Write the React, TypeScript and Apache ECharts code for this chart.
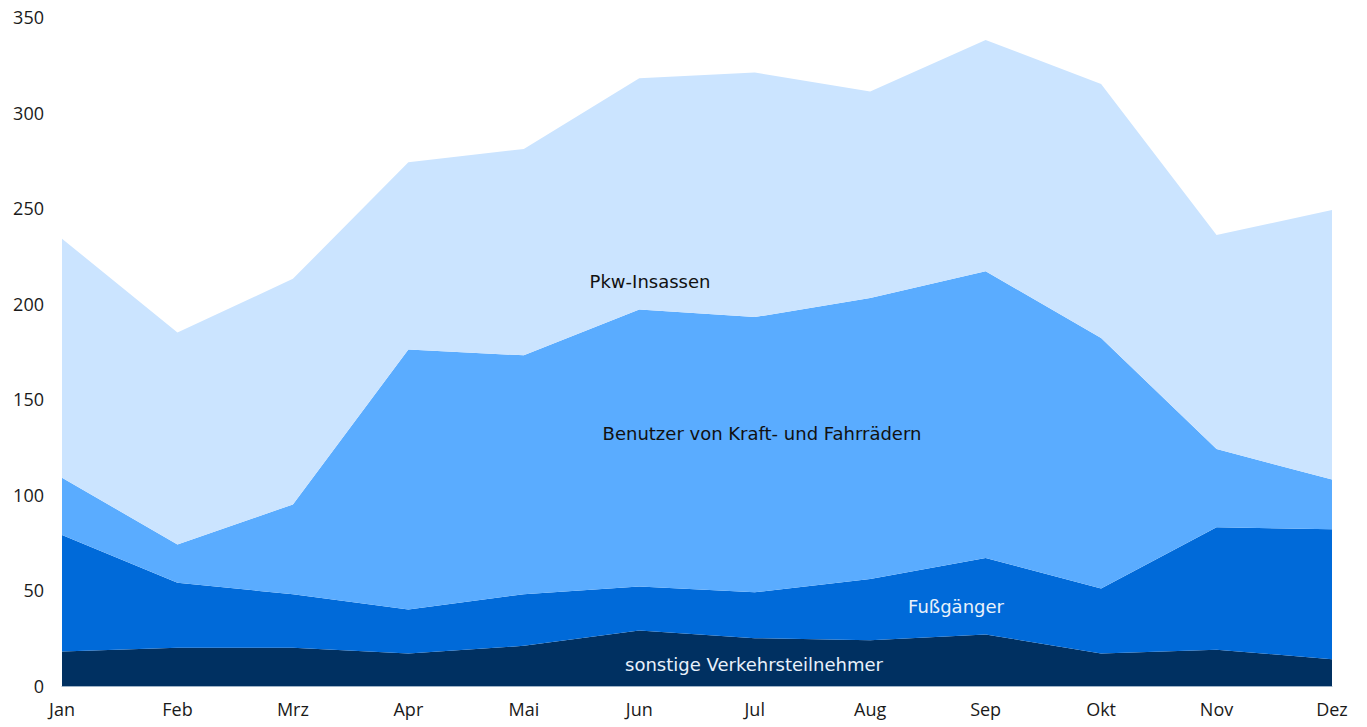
import React, { useEffect, useRef } from "react";
import * as echarts from "echarts";

const months = ["Jan", "Feb", "Mrz", "Apr", "Mai", "Jun", "Jul", "Aug", "Sep", "Okt", "Nov", "Dez"];
// cumulative totals, converted to per-series values
const sonstige = [18, 20, 20, 17, 21, 29, 25, 24, 27, 17, 19, 14];
const fussgaengerTop = [79, 54, 48, 40, 48, 52, 49, 56, 67, 51, 83, 82];
const benutzerTop = [109, 74, 95, 176, 173, 197, 193, 203, 217, 182, 124, 108];
const pkwTop = [234, 185, 213, 274, 281, 318, 321, 311, 338, 315, 236, 249];

const fussgaenger = fussgaengerTop.map((v, i) => v - sonstige[i]);
const benutzer = benutzerTop.map((v, i) => v - fussgaengerTop[i]);
const pkw = pkwTop.map((v, i) => v - benutzerTop[i]);

const yTicks = { min: 0, max: 350, interval: 50 };

export default function App() {
  const ref = useRef<HTMLDivElement>(null);
  useEffect(() => {
    if (!ref.current) return;
    const chart = echarts.init(ref.current, undefined, { renderer: "svg" });
    const font = "Open Sans";
    const lblFont = "DejaVu Sans";
    const mk = (name: string, data: number[], color: string) => ({
      name,
      type: "line",
      stack: "total",
      data,
      smooth: false,
      symbol: "none",
      lineStyle: { width: 0 },
      areaStyle: { color, opacity: 1 },
      itemStyle: { color },
    });
    const lbl = (text: string, x: number, y: number, fill: string) => ({
      type: "text",
      x,
      y,
      z: 100,
      zlevel: 1,
      style: { text, fill, fontSize: 18, fontFamily: lblFont, align: "center", verticalAlign: "middle" },
    });
    chart.setOption({
      animation: false,
      textStyle: { fontFamily: font },
      grid: { left: 62, right: 35, top: 17, bottom: 41, containLabel: false },
      xAxis: {
        type: "category",
        data: months,
        boundaryGap: false,
        axisLine: { show: true, lineStyle: { color: "#9fb4c8", width: 1 } },
        axisTick: { show: false },
        axisLabel: { color: "#1a1a1a", fontSize: 18, margin: 14, fontFamily: font },
      },
      yAxis: {
        type: "value",
        min: yTicks.min,
        max: yTicks.max,
        interval: yTicks.interval,
        splitLine: { show: false },
        axisLine: { show: false },
        axisTick: { show: false },
        axisLabel: { color: "#1a1a1a", fontSize: 18, margin: 18, fontFamily: font },
      },
      series: [
        mk("sonstige Verkehrsteilnehmer", sonstige, "#003061"),
        mk("Fußgänger", fussgaenger, "#006ad9"),
        mk("Benutzer von Kraft- und Fahrrädern", benutzer, "#5aacff"),
        mk("Pkw-Insassen", pkw, "#cbe4ff"),
      ],
      graphic: [
        lbl("Pkw-Insassen", 650, 281, "#111111"),
        lbl("Benutzer von Kraft- und Fahrrädern", 762, 433, "#111111"),
        lbl("Fußgänger", 956, 606, "#e8f1fb"),
        lbl("sonstige Verkehrsteilnehmer", 754, 664, "#e8f1fb"),
      ],
    });
    return () => chart.dispose();
  }, []);
  return <div ref={ref} style={{ width: 1367, height: 727, position: "absolute", left: 0, top: 0 }} />;
}
